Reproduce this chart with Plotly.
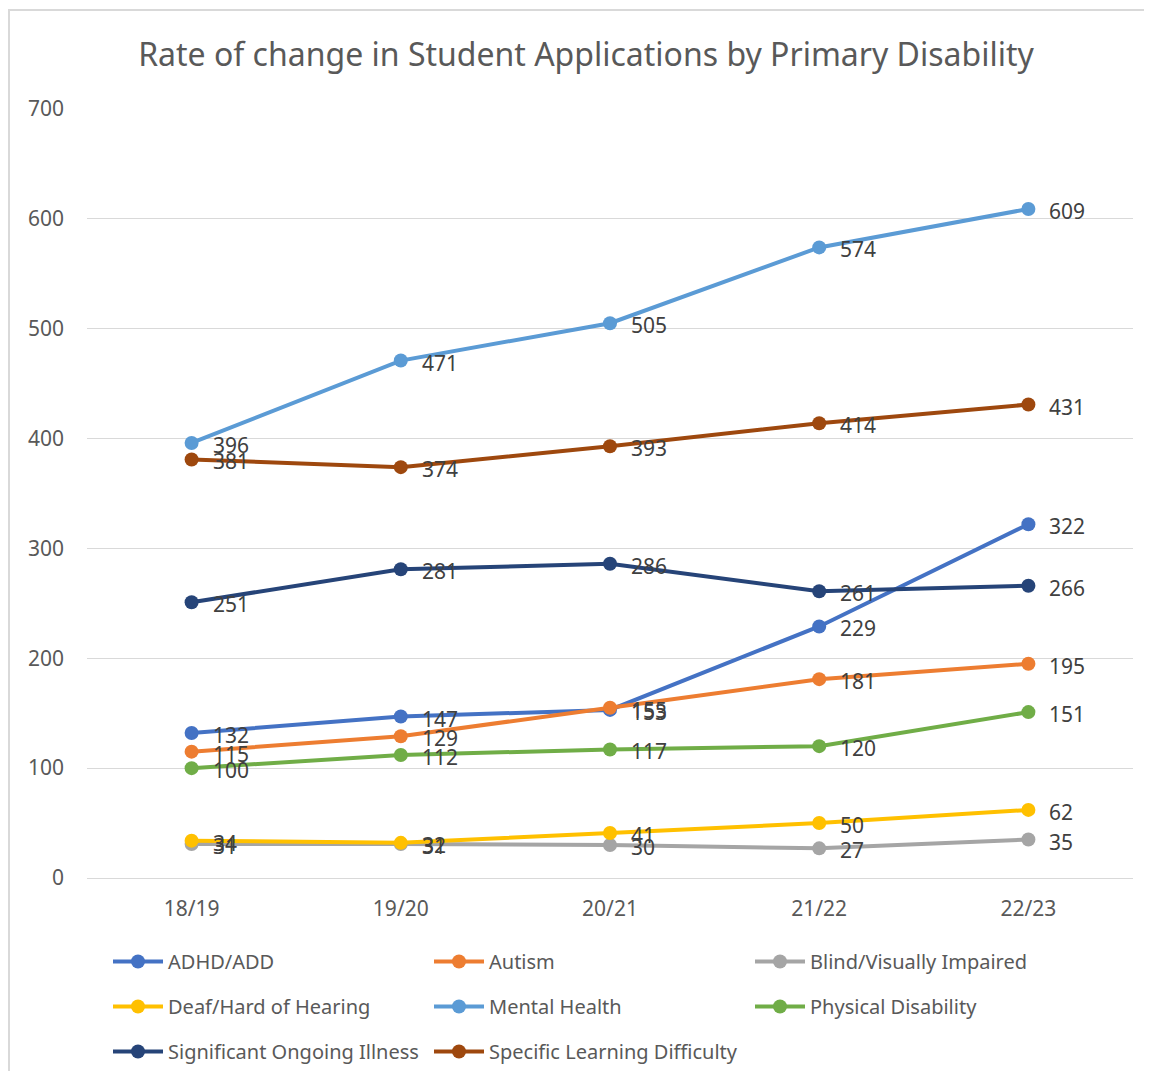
import plotly.graph_objects as go

years = ["18/19", "19/20", "20/21", "21/22", "22/23"]

adhd = [132, 147, 153, 229, 322]
autism = [115, 129, 155, 181, 195]
blind = [31, 31, 30, 27, 35]
deaf = [34, 32, 41, 50, 62]
mental_health = [396, 471, 505, 574, 609]
physical = [100, 112, 117, 120, 151]
soi = [251, 281, 286, 261, 266]
spld = [381, 374, 393, 414, 431]

series_names = ["ADHD/ADD", "Autism", "Blind/Visually Impaired", "Deaf/Hard of Hearing",
                "Mental Health", "Physical Disability", "Significant Ongoing Illness",
                "Specific Learning Difficulty"]
series_values = [adhd, autism, blind, deaf, mental_health, physical, soi, spld]
colors = ["#4472C4", "#ED7D31", "#A5A5A5", "#FFC000", "#5B9BD5", "#70AD47", "#264478", "#9E480E"]
legend_rows = ["legend", "legend", "legend", "legend2", "legend2", "legend2", "legend3", "legend3"]

FONT = "Noto Sans"
OFF = 8  # browser body margin

fig = go.Figure()
annotations = []
for name, vals, col, lg in zip(series_names, series_values, colors, legend_rows):
    fig.add_trace(go.Scatter(
        x=years, y=vals, name=name, mode="lines+markers",
        line=dict(color=col, width=4),
        marker=dict(color=col, size=14),
        legend=lg,
    ))
    for x, v in zip(years, vals):
        annotations.append(dict(
            x=x, y=v, xref="x", yref="y", text=str(v), showarrow=False,
            xanchor="left", yanchor="middle", xshift=19, yshift=-2,
            font=dict(family=FONT, size=21, color="#404040"),
        ))

W, H = 1152 - 2 * OFF, 1079 - 2 * OFF
L, R, T, B = 87 - OFF, 1133 - OFF, 109 - OFF, 878 - OFF
pw, ph = R - L, B - T

def px(x):
    return (x - OFF - L) / pw

def py(y):
    return (B - (y - OFF)) / ph

def legend_cfg(row_center_y):
    return dict(orientation="h", x=px(108), y=py(row_center_y - 20), xanchor="left", yanchor="top",
                entrywidth=256, entrywidthmode="pixels",
                font=dict(family=FONT, size=20, color="#595959"),
                itemwidth=50, bgcolor="rgba(0,0,0,0)")

fig.update_layout(
    width=W, height=H,
    margin=dict(l=L, r=W - R, t=T, b=H - B, pad=0, autoexpand=False),
    paper_bgcolor="white", plot_bgcolor="white",
    title=dict(text="Rate of change in Student Applications by Primary Disability",
               xref="container", x=(586 - OFF) / W, xanchor="center",
               yref="container", y=1 - (55 - OFF) / H, yanchor="middle",
               font=dict(family=FONT, size=32, color="#595959")),
    font=dict(family=FONT, size=20, color="#595959"),
    xaxis=dict(type="category", range=[-0.5, 4.5], showgrid=False,
               showline=True, linecolor="#D9D9D9", linewidth=1,
               ticks="", tickfont=dict(family=FONT, size=21, color="#595959"),
               ticklabelstandoff=12),
    yaxis=dict(range=[0, 700], dtick=100, showgrid=True, gridcolor="#D9D9D9",
               gridwidth=1, zeroline=False, showline=False, ticks="",
               tickfont=dict(family=FONT, size=21, color="#595959"),
               ticklabelstandoff=22),
    showlegend=True,
    legend=legend_cfg(962),
    legend2=legend_cfg(1007),
    legend3=legend_cfg(1052),
    annotations=annotations,
    shapes=[dict(type="rect", xref="paper", yref="paper",
                 x0=px(9), x1=px(1200), y0=py(1120), y1=py(10),
                 line=dict(color="#D9D9D9", width=2), fillcolor="rgba(0,0,0,0)",
                 layer="below")],
)

fig.write_html("out.html")
